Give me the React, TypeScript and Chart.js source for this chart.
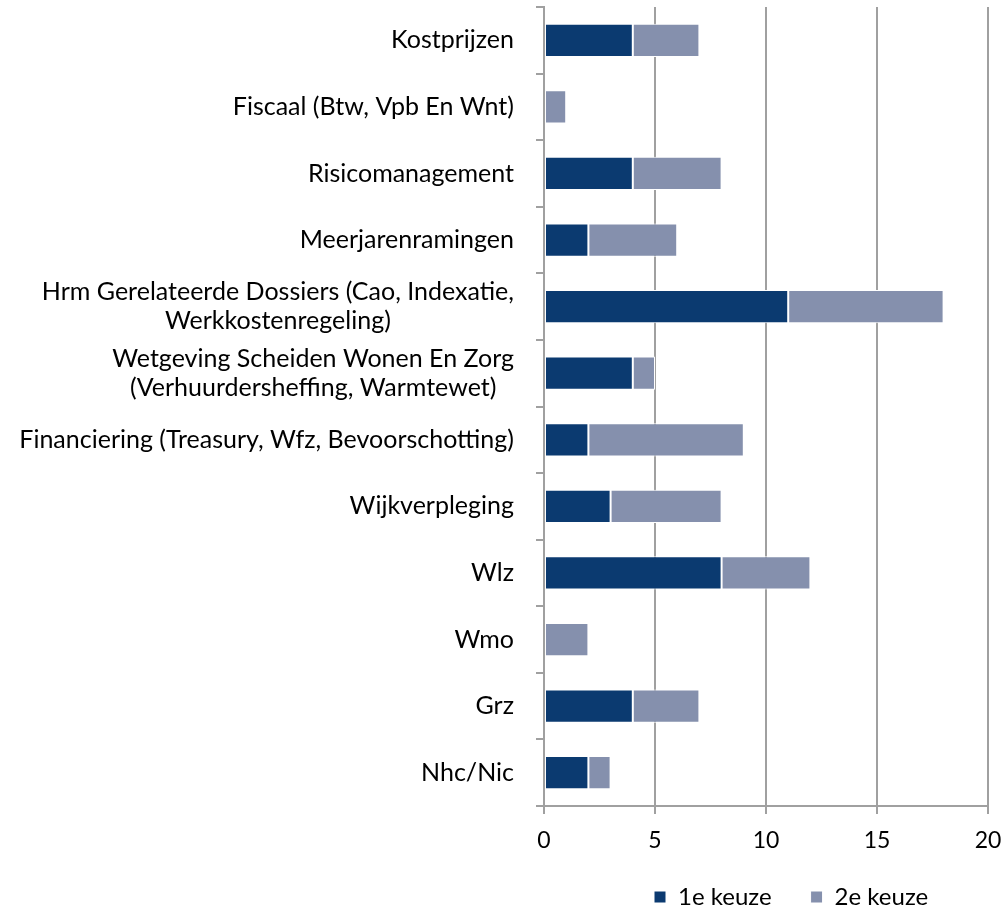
import { useEffect, useRef } from 'react';
import { Chart, registerables } from 'chart.js';

Chart.register(...registerables);

const categories: (string | string[])[] = [
  'Kostprijzen',
  'Fiscaal (Btw, Vpb En Wnt)',
  'Risicomanagement',
  'Meerjarenramingen',
  ['Hrm Gerelateerde Dossiers (Cao, Indexatie,', 'Werkkostenregeling)'],
  ['Wetgeving Scheiden Wonen En Zorg', '(Verhuurdersheffing, Warmtewet)'],
  'Financiering (Treasury, Wfz, Bevoorschotting)',
  'Wijkverpleging',
  'Wlz',
  'Wmo',
  'Grz',
  'Nhc/Nic',
];
const firstChoice = [4, 0, 4, 2, 11, 4, 2, 3, 8, 0, 4, 2];
const secondChoice = [3, 1, 4, 4, 7, 1, 7, 5, 4, 2, 3, 1];
const seriesNames = ['1e keuze', '2e keuze'];
const xMin = 0;
const xMax = 20;
const xStep = 5;

const DARK = '#0b3a70';
const LIGHT = '#8590ad';
const GRID = '#a0a0a0';
const FONT = 'Lato, "Open Sans", sans-serif';

// place legend like the reference (left edge of first box, top of row)
const LEG_X = 654;
const LEG_Y = 885;

const legendPlace = {
  id: 'legendPlace',
  afterLayout(chart: any) {
    const l = chart.legend;
    if (!l) return;
    const pad = l.options.labels.padding;
    const dx = LEG_X - (l.left + pad);
    l.left += dx;
    l.right += dx;
    const dy = LEG_Y - (l.top + pad);
    l.top += dy;
    l.bottom = l.top + pad * 2 + 40;
  },
};

const centerMultiline = {
  id: 'centerMultiline',
  beforeDraw(chart: any) {
    const scale = chart.scales.y;
    if (!scale) return;
    const items = scale.getLabelItems();
    const ctx = chart.ctx;
    items.forEach((it: any) => {
      if (Array.isArray(it.label) && !it._centered) {
        ctx.save();
        ctx.font = it.font.string;
        const w = Math.max(...it.label.map((s: string) => ctx.measureText(s).width));
        ctx.restore();
        it.options.textAlign = 'center';
        it.options.translation[0] -= w / 2;
        it._centered = true;
      }
    });
  },
};

export default function App() {
  const ref = useRef<HTMLCanvasElement | null>(null);

  useEffect(() => {
    document.body.style.margin = '0';
    const canvas = ref.current;
    if (!canvas) return;
    const chart = new Chart(canvas, {
      type: 'bar',
      data: {
        labels: categories,
        datasets: [
          {
            label: seriesNames[0],
            data: firstChoice,
            backgroundColor: DARK,
            borderColor: '#ffffff',
            borderWidth: (c: any) => (c.raw === 0 ? 0 : 1),
            borderSkipped: false,
            barPercentage: 0.5,
            categoryPercentage: 1,
          },
          {
            label: seriesNames[1],
            data: secondChoice,
            backgroundColor: LIGHT,
            borderColor: '#ffffff',
            borderWidth: (c: any) => (c.raw === 0 ? 0 : 1),
            borderSkipped: false,
            barPercentage: 0.5,
            categoryPercentage: 1,
          },
        ],
      },
      options: {
        indexAxis: 'y',
        responsive: false,
        maintainAspectRatio: false,
        animation: false,
        layout: { padding: { top: 7, right: 19, bottom: 0, left: 0 } },
        scales: {
          x: {
            stacked: true,
            min: xMin,
            max: xMax,
            ticks: {
              stepSize: xStep,
              color: '#000',
              font: { family: FONT, size: 23 },
              padding: 13,
            },
            grid: { color: GRID, lineWidth: 2, tickLength: 8, drawTicks: true },
            border: { color: GRID, width: 2 },
            afterFit: (s: any) => {
              s.height = 64;
              s.paddingLeft = 0;
              s.paddingRight = 0;
            },
          },
          y: {
            stacked: true,
            ticks: {
              color: '#000',
              font: { family: FONT, size: 25, lineHeight: 1.15 },
              padding: 22,
            },
            grid: {
              color: GRID,
              lineWidth: 2,
              tickLength: 8,
              drawOnChartArea: false,
              drawTicks: true,
              offset: true,
            },
            border: { color: GRID, width: 2 },
            afterFit: (s: any) => {
              s.width = 544;
              s.paddingTop = 0;
              s.paddingBottom = 0;
            },
          },
        },
        plugins: {
          legend: {
            position: 'bottom',
            align: 'start',
            maxHeight: 40,
            labels: {
              boxWidth: 12,
              boxHeight: 12,
              padding: 39,
              color: '#000',
              font: { family: FONT, size: 24 },
            },
          },
          tooltip: { enabled: false },
        },
      },
      plugins: [legendPlace, centerMultiline],
    } as any);
    return () => chart.destroy();
  }, []);

  return (
    <div style={{ width: 1007, height: 910 }}>
      <canvas ref={ref} width={1007} height={910} style={{ display: 'block' }} />
    </div>
  );
}
